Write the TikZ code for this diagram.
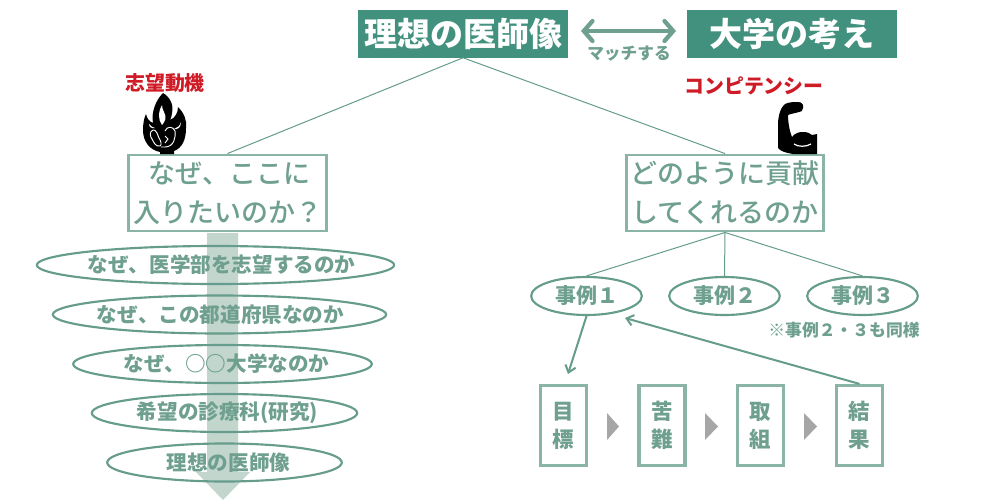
\documentclass[tikz,border=0pt]{standalone}
\usepackage{fontspec}
\setmainfont{Noto Sans CJK JP}
\newfontfamily\medfont{Noto Sans CJK JP Medium}
\usetikzlibrary{arrows.meta,shapes.geometric}
\definecolor{hdr}{HTML}{42917E}
\definecolor{txt}{HTML}{6FA08F}
\definecolor{edge}{HTML}{8AB5A6}
\definecolor{oval}{HTML}{669C8B}
\definecolor{shaft}{HTML}{C2D6CE}
\definecolor{redt}{HTML}{CF1B26}
\newcommand{\px}[2]{\fontsize{\dimexpr#1pt*3/4\relax}{\dimexpr#2pt*3/4\relax}\selectfont}
\newcommand{\oc}[2]{\makebox[0pt][c]{\hspace*{#1}#2}}
\tikzset{
  x=0.75pt,y=-0.75pt,
  hdrbox/.style={fill=hdr,text=white,inner sep=0pt,font=\px{33}{40}\bfseries,anchor=center,minimum width=157.5pt,minimum height=36pt},
  bigbox/.style={draw=edge,line width=2.2pt,fill=white,text=txt,inner sep=0pt,align=center,font=\medfont\px{27}{39},minimum height=57pt},
  ovalnode/.style={ellipse,draw=oval,line width=1.6pt,inner sep=0pt,text=txt,font=\px{20.6}{25}\bfseries,minimum height=28.5pt},
  casenode/.style={ovalnode,font=\px{21}{25}\bfseries,minimum width=83pt},
  stepbox/.style={draw=edge,line width=2.4pt,fill=white,inner sep=0pt,text=txt,font=\px{21.5}{28}\bfseries,align=center,minimum width=34.5pt,minimum height=60pt},
  thin link/.style={draw=oval,line width=0.75pt},
  redlabel/.style={text=redt,font=\px{19.9}{24}\bfseries,inner sep=0pt},
  playtip/.style={fill=black!35,draw=none},
  barb/.style={line width=1.5pt,color=oval,-{Straight Barb[length=5pt,width=8pt]}}
}
\begin{document}
\begin{tikzpicture}
\useasboundingbox (0,0) rectangle (1000,500);
\fill[white] (0,0) rectangle (1000,500);
\node[hdrbox] (ideal) at (463,33.5) {理想の医師像};
\node[hdrbox] (univ) at (791.5,33.5) {大学の考え};
\node[bigbox,minimum width=149pt] (why) at (227.5,193) {\hspace*{3pt}なぜ、ここに\\入りたいのか？};
\node[bigbox,minimum width=148pt] (how) at (725,193) {どのように貢献\\してくれるのか};
\draw[thin link] (ideal.south) -- (why.north);
\draw[thin link] (ideal.south) -- (how.north);
% wide arrow
\fill[shaft] (207,233) -- (238,233) -- (238,472) -- (250,472) -- (223,500) -- (196,472) -- (207,472) -- cycle;
% double arrow
\coordinate (al) at (581,31);
\coordinate (ar) at (676,31);
\draw[line width=3.2pt,color=txt,{Straight Barb[length=6.5pt,width=15pt,line cap=round]}-{Straight Barb[length=6.5pt,width=15pt,line cap=round]}] (al) -- (ar);
\node[text=txt,font=\px{16.7}{20}\bfseries,inner sep=0pt] (match) at (629,54) {マッチする};
% red labels
\node[redlabel] (motive) at (165,83) {志望動機};
\node[redlabel] (comp) at (754,86) {コンピテンシー};
% flame
\fill[black] (163,93) .. controls (170,97) and (174,105) .. (172,113) .. controls (172,116) and (171,118) .. (170,120)
  .. controls (175,118) and (178,113) .. (178,107) .. controls (184,113) and (187,120) .. (186,128)
  .. controls (186,140) and (182,148) .. (174,151) -- (174,154) -- (160,154) -- (160,152)
  .. controls (150,150) and (143,142) .. (143,130) .. controls (143,124) and (144,118) .. (146,114)
  .. controls (147,119) and (150,122) .. (153,123) .. controls (151,112) and (156,100) .. (163,93) -- cycle;
\fill[white] (162,105) .. controls (158,112) and (158,120) .. (162,125) .. controls (165,122) and (167,117) .. (164,112) .. controls (163,110) and (162,108) .. (162,105) -- cycle;
\fill[white] (149,124) .. controls (151,126) and (153,128) .. (155,128) .. controls (152,129) and (149,127) .. (149,124) -- cycle;
\fill[white] (181,122) .. controls (180,126) and (177,128) .. (174,129) .. controls (178,130) and (181,127) .. (181,122) -- cycle;
\draw[white,line width=0.7pt] (153,130) .. controls (149,132) and (150,136) .. (152,139) .. controls (154,143) and (156,147) .. (160,146) .. controls (162,145) and (161,141) .. (159,138) -- (157,133) .. controls (156,130) and (154,130) .. (153,130);
\draw[white,line width=0.7pt] (165,131) .. controls (167,126) and (173,126) .. (175,131) .. controls (176,137) and (174,147) .. (165,147) -- (161,147);
\draw[white,line width=0.7pt] (165,136) -- (168,139) -- (165,143);
% arm
\fill[black] (798,102) .. controls (802,102) and (804,105) .. (803,108) .. controls (803,111) and (801,112) .. (799,112) .. controls (796,113) and (790,114) .. (788,115) .. controls (788,120) and (789,130) .. (792,137) .. controls (795,133) and (799,132) .. (803,132) .. controls (807,132) and (810,133) .. (812,135) -- (817,134) -- (817,154) -- (793,154) .. controls (786,153) and (780,151) .. (778,148) -- (778,125) .. controls (778,115) and (781,107) .. (785,104) .. controls (789,102) and (794,102) .. (798,102) -- cycle;
\draw[white,line width=0.9pt] (794,144) .. controls (798,147) and (806,147) .. (811,144);
% ovals left
\node[ovalnode,minimum width=268pt] (o1) at (215.5,265) {\oc{9pt}{なぜ、医学部を志望するのか}};
\node[ovalnode,minimum width=250pt] (o2) at (219.5,314.5) {\oc{1.5pt}{なぜ、この都道府県なのか}};
\node[ovalnode,minimum width=224pt] (o3) at (222.5,364) {\oc{6pt}{なぜ、○○大学なのか}};
\node[ovalnode,minimum width=199pt] (o4) at (224.5,413) {\oc{4.5pt}{希望の診療科(研究)}};
\node[ovalnode,minimum width=176pt] (o5) at (224.5,462.5) {\oc{6pt}{理想の医師像}};
% cases
\node[casenode] (c1) at (586.5,296) {事例１};
\node[casenode] (c2) at (724.5,296) {事例２};
\node[casenode] (c3) at (862.5,296) {事例３};
\draw[thin link] (how.south) -- (c1.north);
\draw[thin link] (how.south) -- (c2.north);
\draw[thin link] (how.south) -- (c3.north);
\node[text=txt,font=\px{16.8}{20}\bfseries,inner sep=0pt] (note) at (844,330) {※事例２・３も同様};
% steps
\node[stepbox] (s1) at (563.5,425.5) {目\\標};
\node[stepbox] (s2) at (662,425.5) {苦\\難};
\node[stepbox] (s3) at (760.5,425.5) {取\\組};
\node[stepbox] (s4) at (859.5,425.5) {結\\果};
\fill[playtip] (607,413) -- (619,426.5) -- (607,440) -- cycle;
\fill[playtip] (705,413) -- (718,426.5) -- (705,440) -- cycle;
\fill[playtip] (804,413) -- (817,426.5) -- (804,440) -- cycle;
\coordinate (a1) at (568,374);
\coordinate (a2) at (625,318);
\draw[barb] (c1.south) -- (a1);
\draw[barb] (s4.north) -- (a2);
\end{tikzpicture}
\end{document}
